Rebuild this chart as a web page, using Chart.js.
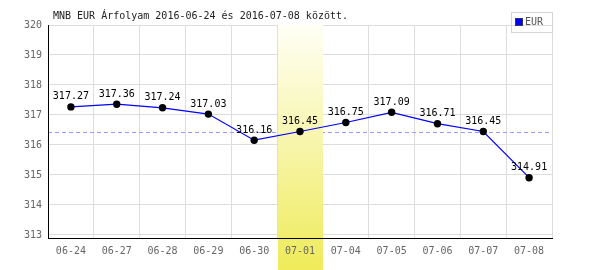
<!DOCTYPE html>
<html>
<head>
<meta charset="utf-8">
<script src="https://cdn.jsdelivr.net/npm/chart.js@4/dist/chart.umd.min.js"></script>
<style>
  html, body { margin: 0; padding: 0; background: #ffffff; }
  #wrap { width: 600px; height: 270px; }
</style>
</head>
<body>
<div id="wrap"><canvas id="c" width="600" height="270"></canvas></div>
<script>
const categories = ['06-24','06-27','06-28','06-29','06-30','07-01','07-04','07-05','07-06','07-07','07-08'];
const eurValues = [317.27, 317.36, 317.24, 317.03, 316.16, 316.45, 316.75, 317.09, 316.71, 316.45, 314.91];
const yTickValues = [313, 314, 315, 316, 317, 318, 319, 320];
const seriesLabel = 'EUR';
const highlightIndex = 5;
const titleText = 'MNB EUR Árfolyam 2016-06-24 és 2016-07-08 között.';

const MONO = '"DejaVu Sans Mono", "Liberation Mono", monospace';

const customPlugin = {
  id: 'custom',
  beforeDatasetsDraw(chart) {
    const ctx = chart.ctx;
    const ca = chart.chartArea;
    const xs = chart.scales.x, ys = chart.scales.y;
    const refY = Math.round(ys.getPixelForValue(eurValues[highlightIndex])) + 0.5;
    ctx.save();
    ctx.strokeStyle = '#9999ff';
    ctx.lineWidth = 1;
    ctx.setLineDash([4, 3]);
    ctx.beginPath();
    ctx.moveTo(ca.left, refY);
    ctx.lineTo(ca.right, refY);
    ctx.stroke();
    ctx.restore();
    const x0 = xs.getPixelForValue(highlightIndex - 0.5);
    const x1 = xs.getPixelForValue(highlightIndex + 0.5);
    const g = ctx.createLinearGradient(0, ca.top, 0, chart.height);
    g.addColorStop(0, '#fffff6');
    g.addColorStop(1, '#efeb5a');
    ctx.save();
    ctx.fillStyle = g;
    ctx.fillRect(Math.round(x0) + 1, ca.top, Math.round(x1) - Math.round(x0) - 1, chart.height - ca.top);
    ctx.restore();
  },
  afterDatasetsDraw(chart) {
    const ctx = chart.ctx;
    const meta = chart.getDatasetMeta(0);
    ctx.save();
    ctx.font = '10px ' + MONO;
    ctx.fillStyle = '#000000';
    ctx.textAlign = 'center';
    ctx.textBaseline = 'middle';
    meta.data.forEach((pt, i) => {
      ctx.fillText(eurValues[i].toFixed(2), pt.x, pt.y - 10);
    });
    ctx.restore();
  },
  afterDraw(chart) {
    const ctx = chart.ctx;
    ctx.save();
    ctx.font = '10px ' + MONO;
    ctx.fillStyle = '#222222';
    ctx.textAlign = 'left';
    ctx.textBaseline = 'middle';
    ctx.fillText(titleText, 53, 16);
    ctx.strokeStyle = '#d4d4d4';
    ctx.lineWidth = 1;
    ctx.strokeRect(511.5, 12.5, 41, 20);
    ctx.fillStyle = '#0000ff';
    ctx.fillRect(515, 18, 8, 8);
    ctx.strokeStyle = '#333366';
    ctx.strokeRect(515.5, 18.5, 7, 7);
    ctx.fillStyle = '#555555';
    ctx.fillText(chart.data.datasets[0].label, 525, 22.5);
    ctx.restore();
  }
};

new Chart(document.getElementById('c'), {
  type: 'line',
  data: {
    labels: categories,
    datasets: [{
      label: seriesLabel,
      data: eurValues,
      borderColor: '#0000ff',
      borderWidth: 1.2,
      pointBackgroundColor: '#000000',
      pointBorderColor: '#000000',
      pointRadius: 3.7,
      pointBorderWidth: 0,
      tension: 0,
      fill: false
    }]
  },
  options: {
    responsive: false,
    animation: false,
    devicePixelRatio: 1,
    events: [],
    layout: { padding: { left: 0, top: 25, right: 48, bottom: 0 } },
    plugins: {
      legend: { display: false },
      title: { display: false },
      tooltip: { enabled: false }
    },
    scales: {
      x: {
        type: 'category',
        offset: true,
        grid: { offset: true, color: '#dddddd', lineWidth: 1, drawTicks: false },
        border: { display: true, color: '#000000', width: 1, z: 1 },
        ticks: { color: '#666666', font: { family: MONO, size: 10 }, padding: 7, maxRotation: 0, autoSkip: false, z: 1 },
        afterFit(scale) { scale.height = 32; }
      },
      y: {
        type: 'linear',
        min: 312.9,
        max: 320,
        afterBuildTicks(axis) { axis.ticks = yTickValues.map(v => ({ value: v })); },
        grid: { color: '#dddddd', lineWidth: 1, drawTicks: false },
        border: { display: true, color: '#000000', width: 1, z: 1 },
        ticks: { color: '#666666', font: { family: MONO, size: 10 }, padding: 6, z: 1,
                 callback: v => String(v) },
        afterFit(scale) { scale.width = 48; }
      }
    }
  },
  plugins: [customPlugin]
});
</script>
</body>
</html>
